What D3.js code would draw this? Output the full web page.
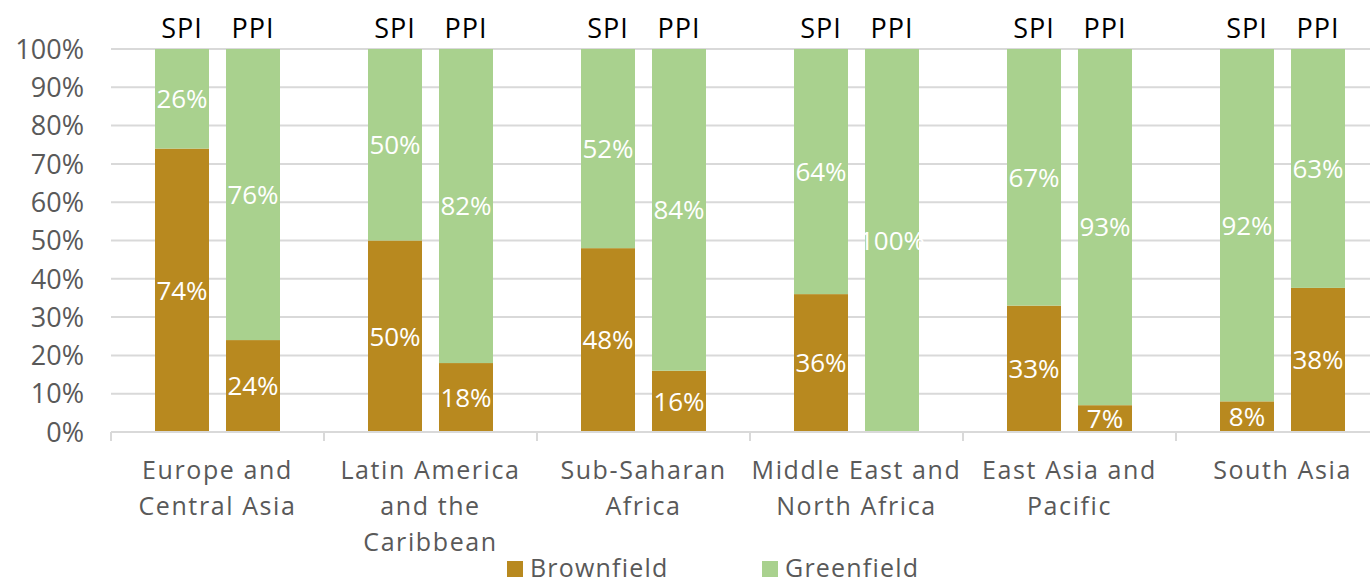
<!DOCTYPE html>
<html>
<head>
<meta charset="utf-8">
<script src="https://cdn.jsdelivr.net/npm/d3@7"></script>
<style>
  html, body { margin: 0; padding: 0; background: #fff; }
  svg { display: block; font-family: "Open Sans", "Lato", sans-serif; }
</style>
</head>
<body>
<svg id="chart" width="1370" height="583"></svg>
<script>
// Regions and their label lines
const regions = [
  "Europe and Central Asia",
  "Latin America and the Caribbean",
  "Sub-Saharan Africa",
  "Middle East and North Africa",
  "East Asia and Pacific",
  "South Asia"
];
const regionLines = [
  ["Europe and", "Central Asia"],
  ["Latin America", "and the", "Caribbean"],
  ["Sub-Saharan", "Africa"],
  ["Middle East and", "North Africa"],
  ["East Asia and", "Pacific"],
  ["South Asia"]
];
const programs = ["SPI", "PPI"];
const seriesNames = ["Brownfield", "Greenfield"];

// Shares (%) per region, SPI then PPI
const spiBrownfield = [74, 50, 48, 36, 33, 8];
const spiGreenfield = [26, 50, 52, 64, 67, 92];
const ppiBrownfield = [24, 18, 16, 0, 7, 38];
const ppiGreenfield = [76, 82, 84, 100, 93, 63];

const yTicks = [0, 10, 20, 30, 40, 50, 60, 70, 80, 90, 100];

const colors = { Brownfield: "#b8891f", Greenfield: "#a9d18e" };

// Flatten into one row per bar
const rows = [];
regions.forEach((r, i) => {
  rows.push({ region: r, program: "SPI", Brownfield: spiBrownfield[i], Greenfield: spiGreenfield[i] });
  rows.push({ region: r, program: "PPI", Brownfield: ppiBrownfield[i], Greenfield: ppiGreenfield[i] });
});

const svg = d3.select("#chart");
const plotLeft = 111, plotTop = 49, plotBottom = 432;
const groupW = 213;
const plotRight = plotLeft + groupW * regions.length;

const x0 = d3.scaleBand().domain(regions).range([plotLeft, plotRight]).paddingInner(0).paddingOuter(0);
const x1 = d3.scaleBand().domain(programs).range([44, groupW - 44]).paddingInner(17 / 71).paddingOuter(0);
const y = d3.scaleLinear().domain([0, 1]).range([plotBottom, plotTop]);

// 100% stack: each bar normalised to its total
const stack = d3.stack().keys(seriesNames).offset(d3.stackOffsetExpand);
const series = stack(rows);

// Gridlines
svg.append("g")
  .selectAll("line")
  .data(yTicks)
  .join("line")
  .attr("x1", plotLeft).attr("x2", 1370)
  .attr("y1", d => y(d / 100)).attr("y2", d => y(d / 100))
  .attr("stroke", "#d9d9d9").attr("stroke-width", 2);

// Y axis labels
svg.append("g")
  .selectAll("text")
  .data(yTicks)
  .join("text")
  .attr("x", 84)
  .attr("y", d => y(d / 100))
  .attr("dy", "0.36em")
  .attr("text-anchor", "end")
  .attr("fill", "#595959")
  .attr("font-size", 27)
  .text(d => d + "%");

// Bars
const barG = svg.append("g");
series.forEach(s => {
  barG.append("g")
    .attr("fill", colors[s.key])
    .selectAll("rect")
    .data(s)
    .join("rect")
    .attr("x", d => x0(d.data.region) + x1(d.data.program))
    .attr("width", x1.bandwidth())
    .attr("y", d => y(d[1]))
    .attr("height", d => Math.max(0, y(d[0]) - y(d[1])));
});

// Value labels inside segments
series.forEach(s => {
  barG.append("g")
    .selectAll("text")
    .data(s.filter(d => d.data[s.key] > 0))
    .join("text")
    .attr("x", d => x0(d.data.region) + x1(d.data.program) + x1.bandwidth() / 2)
    .attr("y", d => (y(d[0]) + y(d[1])) / 2)
    .attr("dy", "0.36em")
    .attr("text-anchor", "middle")
    .attr("fill", "#ffffff")
    .attr("font-size", 26)
    .text(d => d.data[s.key] + "%");
});

// Program labels above bars
svg.append("g")
  .selectAll("text")
  .data(rows)
  .join("text")
  .attr("x", d => x0(d.region) + x1(d.program) + x1.bandwidth() / 2)
  .attr("y", 38)
  .attr("text-anchor", "middle")
  .attr("fill", "#000")
  .attr("font-size", 27)
  .attr("letter-spacing", 1)
  .text(d => d.program);

// X axis baseline and group ticks
svg.append("line")
  .attr("x1", plotLeft).attr("x2", 1370)
  .attr("y1", plotBottom).attr("y2", plotBottom)
  .attr("stroke", "#d9d9d9").attr("stroke-width", 2);
svg.append("g")
  .selectAll("line")
  .data(regions)
  .join("line")
  .attr("x1", d => x0(d)).attr("x2", d => x0(d))
  .attr("y1", plotBottom).attr("y2", plotBottom + 9)
  .attr("stroke", "#d9d9d9").attr("stroke-width", 2);

// Category labels
const cat = svg.append("g")
  .selectAll("text")
  .data(regions)
  .join("text")
  .attr("text-anchor", "middle")
  .attr("fill", "#595959")
  .attr("font-size", 25)
  .attr("letter-spacing", 1.6);
cat.each(function (d, i) {
  const t = d3.select(this);
  regionLines[i].forEach((line, j) => {
    t.append("tspan")
      .attr("x", x0(d) + groupW / 2)
      .attr("y", 470 + j * 36)
      .attr("dy", "0.36em")
      .text(line);
  });
});

// Legend
const legendItems = [
  { key: "Brownfield", x: 507 },
  { key: "Greenfield", x: 762 }
];
const lg = svg.append("g")
  .selectAll("g")
  .data(legendItems)
  .join("g")
  .attr("transform", d => `translate(${d.x},561)`);
lg.append("rect")
  .attr("width", 16).attr("height", 16)
  .attr("fill", d => colors[d.key]);
lg.append("text")
  .attr("x", 23).attr("y", 7)
  .attr("dy", "0.36em")
  .attr("fill", "#595959")
  .attr("font-size", 25)
  .attr("letter-spacing", 1.2)
  .text(d => d.key);
</script>
</body>
</html>
